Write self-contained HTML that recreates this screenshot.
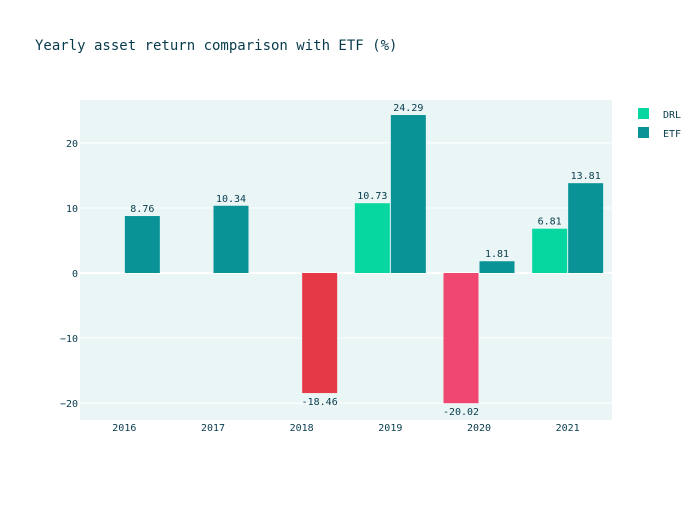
<!DOCTYPE html>
<html><head><meta charset="utf-8"><style>
body{margin:0;background:#fff}
svg text{font-family:"DejaVu Sans Mono","Liberation Mono",monospace;fill:#073b4c}
</style></head><body>
<svg id="c" width="700" height="500">
<rect x="0" y="0" width="700" height="500" fill="#fff"/>
<rect x="80" y="100" width="532" height="320" fill="#eaf6f6"/>
<text x="35" y="50" font-size="14">Yearly asset return comparison with ETF (%)</text>
<g id="grid"></g><g id="bars"></g><g id="axes"></g>
<g>
<rect x="638" y="108" width="11" height="11" fill="#06d6a0"/>
<text x="663" y="118" font-size="10">DRL</text>
<rect x="638" y="127" width="11" height="11" fill="#0a9396"/>
<text x="663" y="137" font-size="10">ETF</text>
</g>
</svg>
<script>
const categories=["2016","2017","2018","2019","2020","2021"];
const drlValues=[null,null,-18.46,10.73,-20.02,6.81];
const etfValues=[8.76,10.34,null,24.29,1.81,13.81];
const drlColors=["#06d6a0","#06d6a0","#e63946","#06d6a0","#ef476f","#06d6a0"];
const yTicks=[-20,-10,0,10,20];
const yTickLabels=["−20","−10","0","10","20"];
const NS="http://www.w3.org/2000/svg";
const x0=80,x1=612,yMin=-22.6,yMax=26.6,py0=100,py1=420;
const y=v=>py1-(v-yMin)/(yMax-yMin)*(py1-py0);
const bw=(x1-x0)/categories.length;
const xc=i=>x0+bw*(i+0.5);
function mk(t,a,p){const e=document.createElementNS(NS,t);for(const k in a)e.setAttribute(k,a[k]);document.getElementById(p).appendChild(e);return e;}
yTicks.forEach((t,i)=>{
 if(t!==0){const g=mk('line',{x1:x0,x2:x1,y1:y(t),y2:y(t),stroke:'#fff','stroke-width':1},'grid');
 
 }
 const l=mk('text',{x:x0-2,y:y(t)+4,'text-anchor':'end','font-size':10},'axes');l.textContent=yTickLabels[i];
 
 
});
const z=mk('line',{x1:x0,x2:x1,y1:y(0),y2:y(0),stroke:'#fff','stroke-width':2},'grid');


categories.forEach((c,i)=>{
 const t=mk('text',{x:xc(i),y:431,'text-anchor':'middle','font-size':10},'axes');t.textContent=c;
 
 
});
function bar(v,i,off,col,name){
 if(v===null)return;
 const bx=xc(i)+off, top=Math.min(y(v),y(0)), h=Math.abs(y(v)-y(0));
 const r=mk('rect',{x:bx,y:top,width:35,height:h,fill:col},'bars');
 
 
 const lt=mk('text',{x:bx+17.5,y:v>=0?top-4:top+h+12,'text-anchor':'middle','font-size':10},'bars');
 lt.textContent=v.toFixed(2);
 
 
}
categories.forEach((c,i)=>{
 const dOff=etfValues[i]===null?0.5:-35.5;
 bar(drlValues[i],i,dOff,drlColors[i],'drl');
 bar(etfValues[i],i,0.5,'#0a9396','etf');
});
</script>
</body></html>
